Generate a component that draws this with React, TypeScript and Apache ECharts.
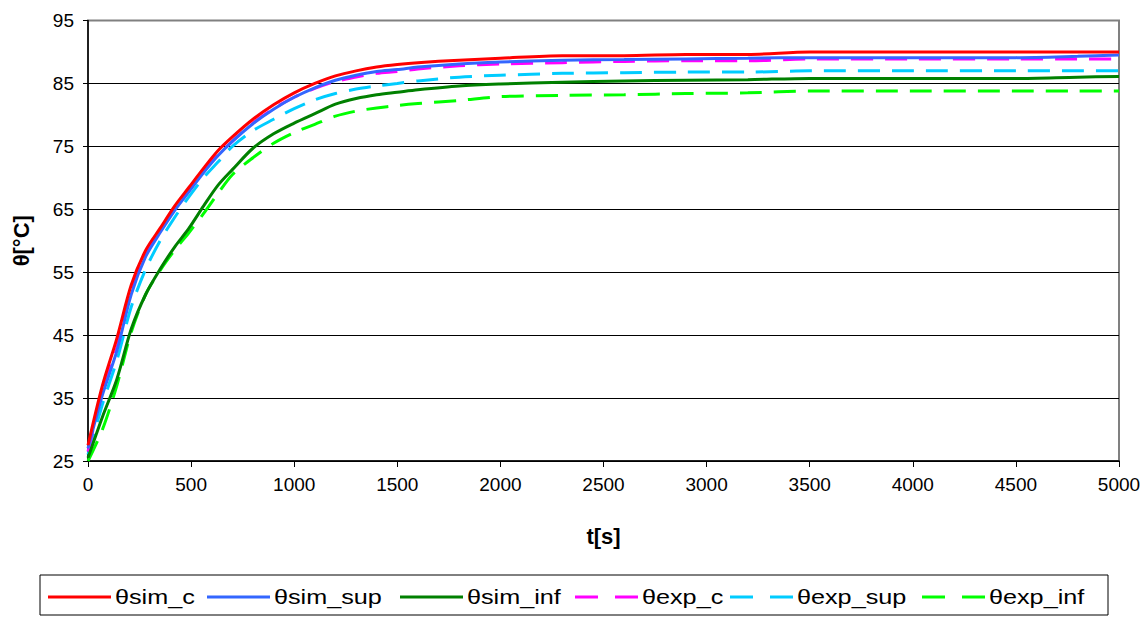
import React, { useEffect, useRef } from "react";
import * as echarts from "echarts";

const times = [0, 70, 140, 210, 280, 350, 420, 490, 560, 630, 700, 800, 900, 1000, 1100, 1200, 1300, 1400, 1500, 1600, 1800, 2000, 2300, 2600, 2900, 3200, 3500, 4000, 4500, 4800, 5000];

const simC = [27.5, 37, 44.5, 53, 58.5, 62, 65.5, 68.5, 71.5, 74.3, 76.5, 79.3, 81.6, 83.5, 85, 86.2, 87, 87.6, 88, 88.3, 88.7, 89, 89.4, 89.4, 89.6, 89.6, 90, 90, 90, 90, 90];
const simSup = [27, 35.5, 42.5, 51.5, 57.5, 61.3, 64.8, 67.8, 70.8, 73.5, 75.8, 78.6, 80.9, 82.8, 84.3, 85.5, 86.3, 86.9, 87.2, 87.6, 88.1, 88.4, 88.7, 88.8, 88.9, 89, 89.1, 89.1, 89.1, 89.3, 89.5];
const simInf = [25.5, 32, 38, 46, 51.5, 55.5, 59, 62, 65.5, 68.8, 71.3, 74.7, 77, 78.7, 80.2, 81.7, 82.6, 83.2, 83.6, 84, 84.6, 84.9, 85.2, 85.4, 85.5, 85.6, 85.8, 85.8, 85.8, 86, 86.1];
const expC = [26.5, 36, 43, 52, 57.8, 61.5, 65, 68, 71, 73.6, 75.8, 78.7, 81, 82.8, 84.2, 85.3, 86, 86.6, 86.9, 87.3, 87.8, 88.1, 88.3, 88.5, 88.6, 88.6, 88.9, 88.9, 88.9, 88.9, 88.9];
const expSup = [26, 34, 41, 49.5, 55.5, 60, 63.7, 67, 70, 72.5, 75, 77.5, 79.3, 81, 82.4, 83.4, 84.1, 84.6, 85, 85.4, 86, 86.3, 86.6, 86.7, 86.8, 86.8, 87, 87, 87, 87, 87];
const expInf = [25, 30, 37, 45.5, 51.5, 55.3, 58.5, 61.3, 64.3, 67.5, 70.5, 73.2, 75.5, 77.2, 78.5, 79.8, 80.6, 81.1, 81.5, 81.8, 82.3, 82.9, 83.1, 83.2, 83.4, 83.5, 83.8, 83.8, 83.8, 83.8, 83.8];

const seriesNames = ["θsim_c", "θsim_sup", "θsim_inf", "θexp_c", "θexp_sup", "θexp_inf"];
const seriesValues = [simC, simSup, simInf, expC, expSup, expInf];
const seriesColors = ["#FF0000", "#3366FF", "#008000", "#FF00FF", "#00CCFF", "#00FF00"];
const seriesDashed = [false, false, false, true, true, true];
const legendLefts = [48, 207, 400, 575, 730, 922];

export default function App() {
  const ref = useRef<HTMLDivElement>(null);
  useEffect(() => {
    if (!ref.current) return;
    const chart = echarts.init(ref.current, null, { renderer: "svg" });
    const font = "Arial, 'Liberation Sans', sans-serif";
    const legendGraphics: any[] = [
      {
        type: "rect",
        shape: { x: 40, y: 575, width: 1068, height: 40 },
        style: { fill: "none", stroke: "#000", lineWidth: 1 },
        silent: true,
      },
    ];
    seriesNames.forEach((n, i) => {
      const x = legendLefts[i];
      legendGraphics.push({
        type: "line",
        shape: { x1: x, y1: 597, x2: x + 63, y2: 597 },
        style: {
          stroke: seriesColors[i],
          lineWidth: 3,
          lineDash: seriesDashed[i] ? [23, 17] : null,
        },
        silent: true,
      });
      legendGraphics.push({
        type: "text",
        x: x + 67,
        y: 597,
        scaleX: 1.2,
        style: {
          text: n,
          font: `21px ${font}`,
          fill: "#000",
          verticalAlign: "middle",
          align: "left",
        },
        silent: true,
      });
    });
    chart.setOption({
      animation: false,
      backgroundColor: "#FFFFFF",
      grid: {
        left: 88,
        right: 26,
        top: 20.5,
        bottom: 156,
        show: true,
        borderColor: "#808080",
        borderWidth: 2,
      },
      xAxis: {
        type: "value",
        min: 0,
        max: 5000,
        interval: 500,
        name: "t[s]",
        nameLocation: "middle",
        nameGap: 64,
        nameTextStyle: { fontFamily: font, fontWeight: "bold", fontSize: 22, color: "#000" },
        axisLine: { show: true, onZero: false, lineStyle: { color: "#000", width: 1.5 } },
        axisTick: { show: true, length: 6, lineStyle: { color: "#000" } },
        axisLabel: { fontFamily: font, fontSize: 19, color: "#000", margin: 14, formatter: (v: number) => String(v) },
        splitLine: { show: false },
      },
      yAxis: {
        type: "value",
        min: 25,
        max: 95,
        interval: 10,
        name: "θ[°C]",
        nameLocation: "middle",
        nameRotate: 90,
        nameGap: 56,
        nameTextStyle: { fontFamily: font, fontWeight: "bold", fontSize: 22, color: "#000" },
        axisLine: { show: true, lineStyle: { color: "#000", width: 1.5 } },
        axisTick: { show: true, length: 5, lineStyle: { color: "#000" } },
        axisLabel: { fontFamily: font, fontSize: 19, color: "#000", margin: 14 },
        splitLine: {
          show: true,
          lineStyle: { color: ["#000", "#000", "#000", "#000", "#000", "#000", "#000", "#808080"], width: 1 },
        },
      },
      graphic: legendGraphics,
      series: seriesNames.map((n, i) => ({
        name: n,
        type: "line",
        data: times.map((t, k) => [t, seriesValues[i][k]]),
        showSymbol: false,
        symbol: "none",
        smooth: 0.3,
        clip: true,
        color: seriesColors[i],
        lineStyle: {
          color: seriesColors[i],
          width: 3,
          type: seriesDashed[i] ? [22, 12] : "solid",
        },
        z: 10 - i,
      })),
    });
    return () => chart.dispose();
  }, []);
  return <div ref={ref} style={{ position: "fixed", left: 0, top: 0, width: 1145, height: 617 }} />;
}
